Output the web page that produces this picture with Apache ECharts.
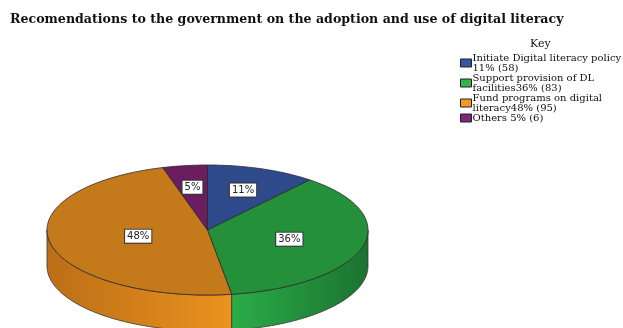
<!DOCTYPE html>
<html>
<head>
<meta charset="utf-8">
<script src="https://cdn.jsdelivr.net/npm/echarts@6/dist/echarts.min.js"></script>
<style>html,body{margin:0;padding:0;background:#fff}#c{width:623px;height:328px}</style>
</head>
<body>
<div id="c"></div>
<script>
// ---- data ----
const categories = ['Initiate Digital literacy policy', 'Support provision of DL facilities', 'Fund programs on digital literacy', 'Others'];
const percents = [11.0, 36.6, 47.9, 4.5];
const counts = [58, 83, 95, 6];
const sliceLabels = ['11%', '36%', '48%', '5%'];
const legendLabels = ['Initiate Digital literacy policy\n11% (58)', 'Support provision of DL\nfacilities36% (83)', 'Fund programs on digital\nliteracy48% (95)', 'Others 5% (6)'];
const titleText = 'Recomendations to the government on the adoption and use of digital literacy';
const legendTitle = 'Key';

// ---- style ----
const topColors = ['#2F4A8B', '#24913A', '#C47A1A', '#6A1E5F'];
const sideLight = ['#3A5AA8', '#2BAC48', '#EB931F', '#7B2A70'];
const sideDark = ['#22386A', '#1B7330', '#BC6E17', '#4E1545'];
const legendColors = ['#3656A5', '#36B34B', '#F29A26', '#7A2A78'];
const geo = { cx: 207.5, cy: 230, rx: 160.5, ry: 65, depth: 36 };

const total = percents.reduce((a, b) => a + b, 0);
function sliceAngles(i) {
  let s = 0;
  for (let j = 0; j < i; j++) s += percents[j];
  return [s / total * 2 * Math.PI, (s + percents[i]) / total * 2 * Math.PI];
}
function pt(t, dy) { return [geo.cx + geo.rx * Math.sin(t), geo.cy - geo.ry * Math.cos(t) + (dy || 0)]; }
function arc(a, b, dy) {
  const n = Math.max(2, Math.ceil((b - a) / (Math.PI / 180)));
  const p = [];
  for (let k = 0; k <= n; k++) p.push(pt(a + (b - a) * k / n, dy));
  return p;
}

function renderSide(params, api) {
  const i = api.value(0);
  const [a, b] = sliceAngles(i);
  const a2 = Math.max(a, Math.PI / 2), b2 = Math.min(b, 3 * Math.PI / 2);
  if (a2 >= b2) return null;
  const pts = arc(a2, b2, 0).concat(arc(a2, b2, geo.depth).reverse());
  return {
    type: 'polygon',
    shape: { points: pts },
    style: {
      fill: {
        type: 'linear', x: geo.cx - geo.rx, y: 0, x2: geo.cx + geo.rx, y2: 0, global: true,
        colorStops: [
          { offset: 0, color: sideDark[i] },
          { offset: 0.576, color: sideLight[i] },
          { offset: 1, color: sideDark[i] }
        ]
      },
      stroke: '#333', lineWidth: 0.8
    }
  };
}

function renderTop(params, api) {
  const i = api.value(0);
  const [a, b] = sliceAngles(i);
  const pts = [[geo.cx, geo.cy]].concat(arc(a, b, 0));
  const alpha = b - a;
  const f = 4 * Math.sin(alpha / 2) / (3 * alpha);
  const mid = (a + b) / 2;
  const lx = geo.cx + geo.rx * f * Math.sin(mid);
  const ly = geo.cy - geo.ry * f * Math.cos(mid);
  return {
    type: 'group',
    children: [
      { type: 'polygon', shape: { points: pts }, style: { fill: topColors[i], stroke: '#2a2a2a', lineWidth: 0.8 } },
      {
        type: 'text', x: lx, y: ly, z2: 10,
        style: {
          text: sliceLabels[i], fill: '#222', font: '10px "DejaVu Sans"',
          align: 'center', verticalAlign: 'middle',
          backgroundColor: '#fff', borderColor: '#333', borderWidth: 1, padding: [2, 2, 1, 2]
        }
      }
    ]
  };
}

const series = [{
  type: 'custom', name: '__side', coordinateSystem: 'none', z: 1, silent: true,
  renderItem: renderSide, data: categories.map((c, i) => [i])
}];
categories.forEach((c, i) => {
  series.push({
    type: 'custom', name: c, coordinateSystem: 'none', z: 2, silent: true,
    itemStyle: { color: legendColors[i] },
    renderItem: renderTop, data: [[i]]
  });
});

const chart = echarts.init(document.getElementById('c'), null, { renderer: 'canvas' });
chart.setOption({
  animation: false,
  title: [
    { text: titleText, left: 10, top: 13, padding: 0, textStyle: { fontFamily: 'DejaVu Serif', fontWeight: 'bold', fontSize: 12.6, color: '#111' } },
    { text: legendTitle, left: 530, top: 39, padding: 0, textStyle: { fontFamily: 'DejaVu Serif', fontWeight: 'normal', fontSize: 11, color: '#111' } }
  ],
  legend: {
    orient: 'vertical', left: 460, top: 53, padding: 0,
    itemWidth: 11, itemHeight: 8, itemGap: 0,
    icon: 'rect',
    itemStyle: { borderColor: '#222', borderWidth: 1 },
    data: categories.map((c, i) => ({ name: c, itemStyle: { color: legendColors[i] } })),
    formatter: name => legendLabels[categories.indexOf(name)],
    textStyle: { fontFamily: 'DejaVu Serif', fontSize: 10, lineHeight: 10, color: '#111', padding: [0, 0, 0, -4] }
  },
  series: series
});
</script>
</body>
</html>
